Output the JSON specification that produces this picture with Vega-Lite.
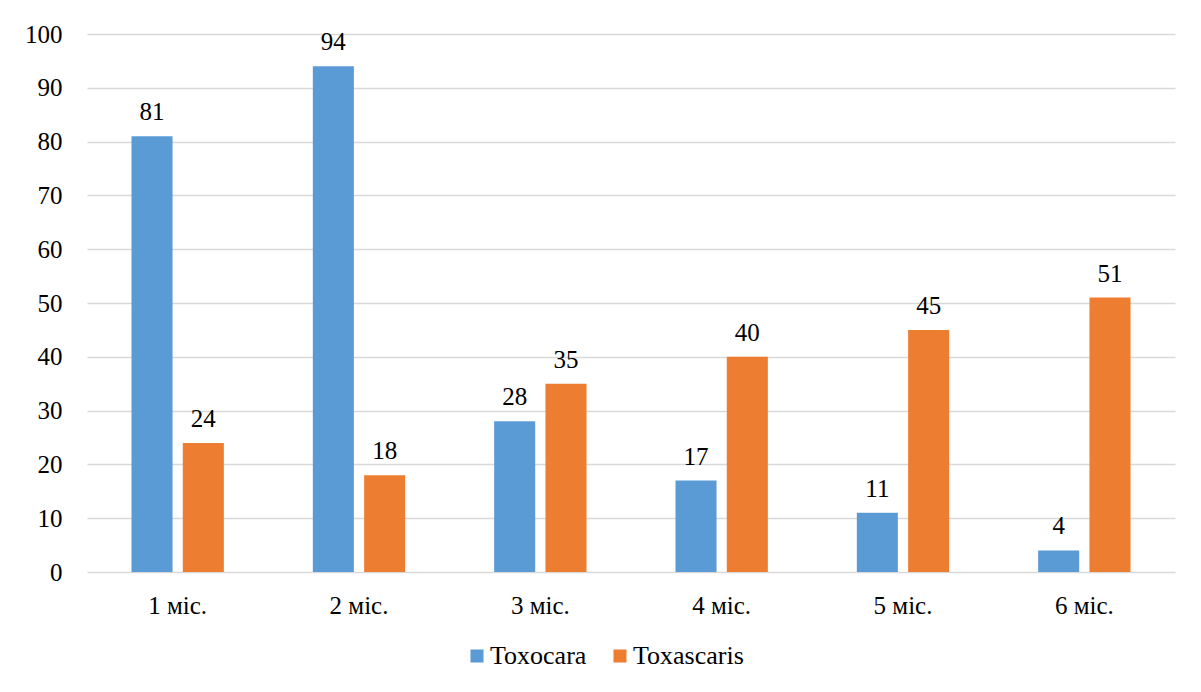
{
  "$schema": "https://vega.github.io/schema/vega-lite/v6.json",
  "autosize": {"type": "none"},
  "width": 1088,
  "height": 538,
  "padding": {"left": 87, "top": 34, "right": 26, "bottom": 120},
  "background": "white",
  "data": {
    "values": [
      {"month": "1 міс.", "series": "Toxocara", "value": 81},
      {"month": "1 міс.", "series": "Toxascaris", "value": 24},
      {"month": "2 міс.", "series": "Toxocara", "value": 94},
      {"month": "2 міс.", "series": "Toxascaris", "value": 18},
      {"month": "3 міс.", "series": "Toxocara", "value": 28},
      {"month": "3 міс.", "series": "Toxascaris", "value": 35},
      {"month": "4 міс.", "series": "Toxocara", "value": 17},
      {"month": "4 міс.", "series": "Toxascaris", "value": 40},
      {"month": "5 міс.", "series": "Toxocara", "value": 11},
      {"month": "5 міс.", "series": "Toxascaris", "value": 45},
      {"month": "6 міс.", "series": "Toxocara", "value": 4},
      {"month": "6 міс.", "series": "Toxascaris", "value": 51}
    ]
  },
  "encoding": {
    "x": {
      "field": "month", "type": "nominal", "sort": null,
      "scale": {"paddingInner": 0, "paddingOuter": 0},
      "axis": {"title": null, "labelAngle": 0, "domain": false, "ticks": false, "labelPadding": 21, "labelFontSize": 25, "labelFont": "Liberation Serif", "labelColor": "#000000"}
    },
    "xOffset": {
      "field": "series", "type": "nominal", "sort": ["Toxocara", "Toxascaris"],
      "scale": {"paddingInner": 0.2, "paddingOuter": 0.867}
    },
    "y": {
      "field": "value", "type": "quantitative",
      "scale": {"domain": [0, 100], "nice": false},
      "axis": {"title": null, "values": [0,10,20,30,40,50,60,70,80,90,100], "domain": false, "ticks": false, "labelPadding": 25, "labelFontSize": 25, "labelFont": "Liberation Serif", "labelColor": "#000000", "gridColor": "#D9D9D9", "gridWidth": 1.3}
    }
  },
  "layer": [
    {
      "mark": {"type": "bar"},
      "encoding": {
        "color": {
          "field": "series", "type": "nominal", "sort": ["Toxocara", "Toxascaris"],
          "scale": {"domain": ["Toxocara", "Toxascaris"], "range": ["#5B9BD5", "#ED7D31"]},
          "legend": {
            "title": null, "orient": "none", "direction": "horizontal",
            "legendX": 377, "legendY": 609,
            "symbolType": "square", "symbolSize": 170, "symbolStrokeWidth": 0, "symbolOpacity": 1,
            "labelFontSize": 26, "labelFont": "Liberation Serif", "labelColor": "#000000",
            "labelOffset": 0, "columnPadding": 20
          }
        }
      }
    },
    {
      "mark": {"type": "text", "baseline": "alphabetic", "dy": -16, "fontSize": 25, "font": "Liberation Serif", "color": "#000000"},
      "encoding": {"text": {"field": "value", "type": "quantitative"}}
    }
  ],
  "config": {"view": {"stroke": null}}
}
